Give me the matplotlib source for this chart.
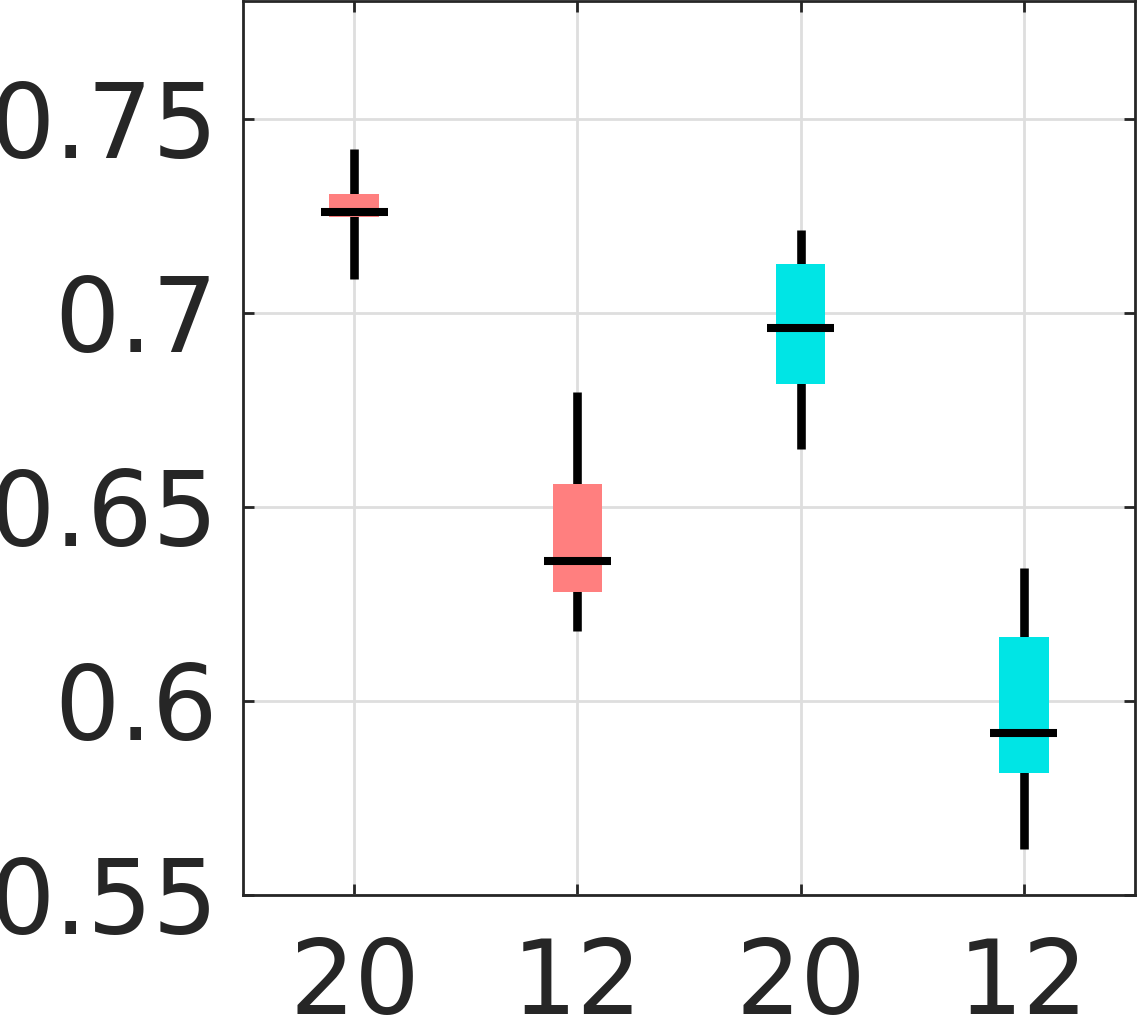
import matplotlib
matplotlib.use("Agg")
import matplotlib.pyplot as plt

# Data
labels = ["20", "12", "20", "12"]
positions = [1, 2, 3, 4]
whisker_low = [0.7088, 0.6180, 0.6649, 0.5619]
q1 = [0.7247, 0.6281, 0.6817, 0.5814]
median = [0.7260, 0.6361, 0.6961, 0.5918]
q3 = [0.7307, 0.6559, 0.7126, 0.6165]
whisker_high = [0.7423, 0.6796, 0.7214, 0.6343]
colors = ["#FF7F7F", "#FF7F7F", "#00E5E5", "#00E5E5"]
yticks = [0.55, 0.6, 0.65, 0.7, 0.75]
ytick_labels = ["0.55", "0.6", "0.65", "0.7", "0.75"]

fig = plt.figure(figsize=(11.38, 10.16), dpi=100)
ax = fig.add_axes([0.2135, 0.1191, 0.7839, 0.8799])

txt = "#262626"
ax.set_xlim(0.5, 4.5)
ax.set_ylim(0.55, 0.7804)

ax.grid(True, color="#dedede", linewidth=2, zorder=0)
ax.set_axisbelow(True)

box_w = 0.224
med_w = 0.30
ax.vlines(positions, whisker_low, whisker_high, colors="black", linewidth=6.2, zorder=2)
heights = [h - l for h, l in zip(q3, q1)]
ax.bar(positions, heights, bottom=q1, width=box_w, color=colors, linewidth=0, zorder=3)
ax.hlines(median, [p - med_w / 2 for p in positions], [p + med_w / 2 for p in positions],
          colors="black", linewidth=5.8, zorder=4)

ax.set_xticks(positions)
ax.set_xticklabels(labels)
ax.set_yticks(yticks)
ax.set_yticklabels(ytick_labels)
ax.tick_params(axis="both", direction="in", length=8, width=2, color=txt,
               labelsize=74, labelcolor=txt, right=True, top=True)
ax.tick_params(axis="y", pad=18)
ax.tick_params(axis="x", pad=29)
for s in ax.spines.values():
    s.set_color(txt)
    s.set_linewidth(2)

fig.savefig("out.png", dpi=100)
